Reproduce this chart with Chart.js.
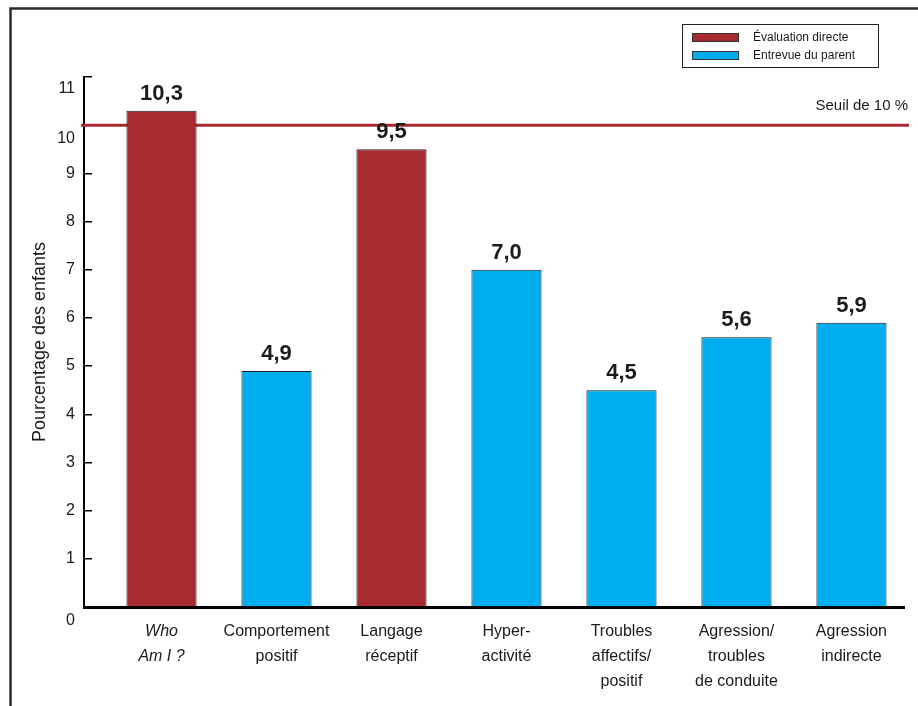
<!DOCTYPE html>
<html lang="fr">
<head>
<meta charset="utf-8">
<title>Pourcentage des enfants</title>
<script src="https://cdn.jsdelivr.net/npm/chart.js@4.4.1/dist/chart.umd.min.js"></script>
<style>
  html, body { margin: 0; padding: 0; background: #fff; }
  #wrap { position: relative; width: 918px; height: 706px; }
</style>
</head>
<body>
<div id="wrap"><canvas id="chart" width="918" height="706"></canvas></div>
<script>
/* ── Data ── */
const categories = [
  ["Who", "Am I ?"],
  ["Comportement", "positif"],
  ["Langage", "réceptif"],
  ["Hyper-", "activité"],
  ["Troubles", "affectifs/", "positif"],
  ["Agression/", "troubles", "de conduite"],
  ["Agression", "indirecte"]
];
const directValues = [10.3, null, 9.5, null, null, null, null];   // Évaluation directe
const parentValues = [null, 4.9, null, 7.0, 4.5, 5.6, 5.9];       // Entrevue du parent
const seriesNames = ["Évaluation directe", "Entrevue du parent"];
const yMin = 0, yMax = 11, yStep = 1;
const threshold = 10;
const thresholdLabel = "Seuil de 10 %";
const yTitle = "Pourcentage des enfants";
// a few y labels sit lower than their tick mark
const yLabelNudge = { 0: 14, 10: 13, 11: 12 };

/* ── Styles ── */
const FONT = "'Liberation Sans', Arial, Helvetica, sans-serif";
const RED = "#a72a31";
const BLUE = "#00adee";
const INK = "#1a1a1a";

const toPoints = arr => arr.map((v, i) => ({ x: i, y: v })).filter(p => p.y !== null);
const fmt = v => v.toFixed(1).replace(".", ",");

/* ── Extra drawing: frame, threshold, value labels, legend box ── */
const decor = {
  id: "decor",
  beforeDraw(chart) {
    const y = chart.scales.y;
    y.getLabelItems().forEach((item, i) => {
      const d = yLabelNudge[y.ticks[i].value];
      if (d && !item._nudged) { item.options.translation[1] += d; item._nudged = true; }
    });
  },
  beforeDatasetsDraw(chart) {
    const { ctx, scales: { y } } = chart;
    const ty = y.getPixelForValue(threshold);
    ctx.save();
    ctx.strokeStyle = RED;
    ctx.lineWidth = 3;
    ctx.beginPath();
    ctx.moveTo(chart.chartArea.left - 3, ty);
    ctx.lineTo(chart.chartArea.right + 5, ty);
    ctx.stroke();
    ctx.fillStyle = INK;
    ctx.font = "15px " + FONT;
    ctx.textAlign = "right";
    ctx.textBaseline = "middle";
    ctx.fillText(thresholdLabel, chart.chartArea.right + 4, ty - 19);
    ctx.restore();
  },
  afterDatasetsDraw(chart) {
    const { ctx } = chart;
    ctx.save();
    ctx.fillStyle = "#1c1c1c";
    ctx.font = "bold 22px " + FONT;
    ctx.textAlign = "center";
    ctx.textBaseline = "bottom";
    chart.data.datasets.forEach((ds, di) => {
      chart.getDatasetMeta(di).data.forEach((bar, i) => {
        ctx.fillText(fmt(ds.data[i].y), bar.x, bar.y - 6);
      });
    });
    ctx.restore();
  },
  afterDraw(chart) {
    const { ctx, width, height } = chart;
    ctx.save();
    // outer frame (top and left only)
    ctx.strokeStyle = "#2b2b2b";
    ctx.lineWidth = 2.5;
    ctx.beginPath();
    ctx.moveTo(10.5, height);
    ctx.lineTo(10.5, 8.5);
    ctx.lineTo(width, 8.5);
    ctx.stroke();

    // legend box
    const lx = width - 236, ly = 24, lw = 196, lh = 43;
    ctx.lineWidth = 1;
    ctx.strokeStyle = "#222";
    ctx.fillStyle = "#fff";
    ctx.fillRect(lx, ly, lw, lh);
    ctx.strokeRect(lx + 0.5, ly + 0.5, lw, lh);
    ctx.font = "12px " + FONT;
    ctx.textBaseline = "middle";
    chart.data.datasets.forEach((ds, i) => {
      const ry = ly + 13 + i * 18;
      ctx.fillStyle = ds.backgroundColor;
      ctx.fillRect(lx + 10, ry - 4, 46, 8);
      ctx.strokeStyle = "#333";
      ctx.strokeRect(lx + 10.5, ry - 3.5, 46, 8);
      ctx.fillStyle = INK;
      ctx.fillText(ds.label, lx + 71, ry + 1);
    });
    ctx.restore();
  }
};

const barStyle = {
  grouped: false,
  categoryPercentage: 1,
  barPercentage: 0.61,
  borderWidth: 1,
  borderColor: "#1e1e1e"
};

new Chart(document.getElementById("chart"), {
  type: "bar",
  data: {
    datasets: [
      Object.assign({ label: seriesNames[0], data: toPoints(directValues), backgroundColor: RED }, barStyle),
      Object.assign({ label: seriesNames[1], data: toPoints(parentValues), backgroundColor: BLUE }, barStyle)
    ]
  },
  options: {
    responsive: false,
    animation: false,
    devicePixelRatio: 1,
    layout: { padding: { top: 77, right: 14, bottom: 0, left: 0 } },
    plugins: { legend: { display: false }, tooltip: { enabled: false } },
    scales: {
      x: {
        type: "linear",
        offset: false,
        min: -0.674,
        max: 6.457,
        afterFit: s => { s.height = 99; },
        grid: { display: false, offset: false },
        border: { display: true, color: "#000", width: 3 },
        ticks: {
          stepSize: 1,
          includeBounds: false,
          autoSkip: false,
          maxRotation: 0,
          padding: 4,
          color: INK,
          font: c => ({ family: FONT, size: 16, lineHeight: 1.5625, style: c.tick && c.tick.value === 0 ? "italic" : "normal" }),
          callback: v => (Number.isInteger(v) && categories[v]) ? categories[v] : ""
        }
      },
      y: {
        min: yMin,
        max: yMax,
        afterFit: s => { s.width = 84; },
        grid: { drawOnChartArea: false, tickLength: -8, color: "#000", lineWidth: 1.5 },
        border: { color: "#000", width: 2 },
        ticks: { stepSize: yStep, padding: 17, color: INK, font: { family: FONT, size: 16 } },
        title: {
          display: true,
          text: yTitle,
          color: INK,
          font: { family: FONT, size: 18 },
          padding: { top: 29, bottom: 0 }
        }
      }
    }
  },
  plugins: [decor]
});
</script>
</body>
</html>
